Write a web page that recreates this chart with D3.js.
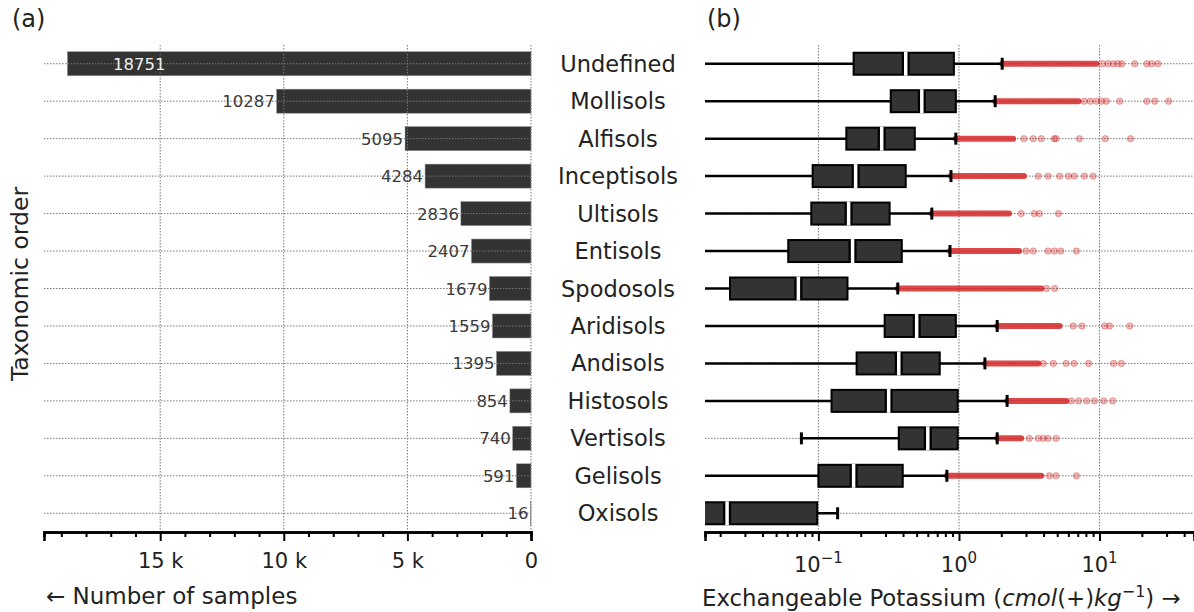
<!DOCTYPE html>
<html>
<head>
<meta charset="utf-8">
<script src="https://cdn.jsdelivr.net/npm/d3@7"></script>
<style>
  body { margin: 0; background: #fff; }
  svg { font-family: "DejaVu Sans", sans-serif; }
</style>
</head>
<body>
<div class="container"></div>
<script>
/* soil orders - sample counts (a) and exchangeable K box plots (b) */
var width = 1194;
var height = 612;

var orders = ["Undefined","Mollisols","Alfisols","Inceptisols","Ultisols","Entisols","Spodosols",
              "Aridisols","Andisols","Histosols","Vertisols","Gelisols","Oxisols"];
var sampleCounts = [18751, 10287, 5095, 4284, 2836, 2407, 1679, 1559, 1395, 854, 740, 591, 16];

// box plot stats, cmol(+)/kg
var whiskerLow  = [0.005, 0.005, 0.005, 0.005, 0.005, 0.005, 0.005, 0.005, 0.005, 0.005, 0.0757, 0.005, 0.005];
var q1          = [0.178, 0.327, 0.158, 0.091, 0.089, 0.061, 0.0235, 0.296, 0.187, 0.124, 0.373, 0.100, 0.010];
var medians     = [0.418, 0.544, 0.282, 0.184, 0.164, 0.175, 0.072, 0.50, 0.373, 0.316, 0.60, 0.178, 0.0224];
var q3          = [0.92, 0.95, 0.485, 0.418, 0.321, 0.392, 0.161, 0.95, 0.73, 0.98, 0.98, 0.398, 0.098];
var whiskerHigh = [2.03, 1.81, 0.95, 0.877, 0.641, 0.863, 0.367, 1.87, 1.53, 2.2, 1.87, 0.82, 0.137];
// outliers: a dense run starting at the whisker, then single points
var denseEnd = [9.5, 7.1, 2.43, 2.9, 2.27, 2.68, 3.85, 5.2, 3.66, 5.8, 2.77, 3.85, null];
var outliers = [
  [10.5, 11.5, 12.5, 13.5, 14.4, 17.8, 21.7, 23.5, 26],
  [7.8, 8.6, 9.5, 10.3, 11.2, 13.9, 21.7, 24.7, 31],
  [2.9, 3.38, 3.85, 4.77, 4.9, 7.2, 11, 16.6],
  [3.66, 4.3, 5.2, 6.0, 6.6, 7.8, 9.0],
  [2.77, 3.43, 3.73, 5.1],
  [3.0, 3.38, 4.3, 4.77, 5.3, 6.85],
  [4.2, 4.8],
  [6.5, 7.5, 10.9, 11.8, 16.4],
  [3.98, 4.69, 5.8, 6.6, 8.36, 12.6, 14.3],
  [6.3, 7.1, 8.1, 9.2, 10.7, 12.4],
  [3.16, 3.66, 3.98, 4.3, 4.9],
  [4.4, 4.9, 6.85],
  []
];

var plotTop = 45, plotBottom = 532;
var leftPanel = {left: 44, right: 531};
var rightPanel = {left: 705, right: 1194};

var svg = d3.select(".container").append("svg")
  .attr("width", width).attr("height", height);

var yScale = d3.scaleBand().domain(orders).range([plotTop, plotBottom]).padding(0);
var rowMid = function(o){ return yScale(o) + yScale.bandwidth() / 2; };

var xLeft = d3.scaleLinear().domain([0, 19700]).range([leftPanel.right, leftPanel.left]);
var xRight = d3.scaleLog().domain([0.0156, 47]).range([rightPanel.left, rightPanel.right]);

var gridStyle = function(sel){
  sel.attr("stroke", "#777").attr("stroke-width", 1).attr("stroke-dasharray", "1.5,1.5");
};

///////////////////////////////////////////////////////////////////////////////////
// (a) bars
var gA = svg.append("g");

gA.selectAll(".bar")
  .data(orders)
  .enter().append("rect")
  .attr("class", "bar")
  .attr("x", (d, i) => xLeft(sampleCounts[i]))
  .attr("y", d => rowMid(d) - 12)
  .attr("width", (d, i) => xLeft(0) - xLeft(sampleCounts[i]))
  .attr("height", 24)
  .attr("fill", "#333")
  .attr("stroke", "#888").attr("stroke-width", 0.5);

gA.selectAll(".hgrid").data(orders).enter().append("line")
  .attr("x1", leftPanel.left).attr("x2", leftPanel.right)
  .attr("y1", d => rowMid(d)).attr("y2", d => rowMid(d))
  .call(gridStyle);
gA.selectAll(".vgrid").data([0, 5000, 10000, 15000]).enter().append("line")
  .attr("x1", d => xLeft(d)).attr("x2", d => xLeft(d))
  .attr("y1", plotTop).attr("y2", plotBottom)
  .call(gridStyle);

gA.selectAll(".count")
  .data(orders)
  .enter().append("text")
  .attr("x", (d, i) => i === 0 ? xLeft(sampleCounts[i]) + 98 : xLeft(sampleCounts[i]) - 2)
  .attr("y", d => rowMid(d) + 6)
  .attr("text-anchor", "end")
  .attr("font-size", 16.5)
  .attr("fill", (d, i) => i === 0 ? "#eee" : "#3a3a3a")
  .text((d, i) => sampleCounts[i]);

gA.append("g").attr("transform", "translate(0," + plotBottom + ")")
  .call(d3.axisBottom(xLeft).tickValues([0, 5000, 10000, 15000]).tickSize(9).tickPadding(12)
    .tickFormat(d => d === 0 ? "0" : (d / 1000) + " k"));
gA.append("g").attr("transform", "translate(0," + plotBottom + ")")
  .call(d3.axisBottom(xLeft).tickValues(d3.range(1000, 20000, 1000).filter(v => v % 5000 !== 0))
    .tickSize(5).tickFormat(""));

gA.append("text").attr("x", 46).attr("y", 604).attr("font-size", 23).attr("fill", "#222")
  .text("\u2190 Number of samples");
gA.append("text").attr("transform", "translate(28," + 284 + ") rotate(-90)")
  .attr("text-anchor", "middle").attr("font-size", 23.5).attr("fill", "#222")
  .text("Taxonomic order");
svg.append("text").attr("x", 12).attr("y", 27).attr("font-size", 24).attr("fill", "#222").text("(a)");

// category labels between the panels
svg.selectAll(".cat").data(orders).enter().append("text")
  .attr("x", 618).attr("y", d => rowMid(d) + 8)
  .attr("text-anchor", "middle").attr("font-size", 22.5).attr("fill", "#222")
  .text(d => d);

///////////////////////////////////////////////////////////////////////////////////
// (b) box plots
var gB = svg.append("g");
svg.append("clipPath").attr("id", "clipB").append("rect")
  .attr("x", rightPanel.left).attr("y", 0).attr("width", rightPanel.right - rightPanel.left).attr("height", height);

gB.selectAll(".hgrid").data(orders).enter().append("line")
  .attr("x1", rightPanel.left).attr("x2", rightPanel.right)
  .attr("y1", d => rowMid(d)).attr("y2", d => rowMid(d))
  .call(gridStyle);
gB.selectAll(".vgrid").data([0.1, 1, 10]).enter().append("line")
  .attr("x1", d => xRight(d)).attr("x2", d => xRight(d))
  .attr("y1", plotTop).attr("y2", plotBottom)
  .call(gridStyle);

var boxes = gB.append("g").attr("clip-path", "url(#clipB)");
var red = "rgb(210,20,20)";

orders.forEach(function(o, i){
  var cy = rowMid(o);
  var row = boxes.append("g");
  // dense outlier run
  if (denseEnd[i] !== null) {
    row.append("line")
      .attr("x1", xRight(whiskerHigh[i])).attr("x2", xRight(denseEnd[i]))
      .attr("y1", cy).attr("y2", cy)
      .attr("stroke", red).attr("stroke-width", 6).attr("stroke-opacity", 0.78)
      .attr("stroke-linecap", "round");
  }
  row.selectAll("circle").data(outliers[i]).enter().append("circle")
    .attr("cx", d => xRight(d)).attr("cy", cy).attr("r", 3.2)
    .attr("fill", red).attr("fill-opacity", 0.3)
    .attr("stroke", red).attr("stroke-opacity", 0.3);
  // whiskers
  row.append("line").attr("x1", xRight(whiskerLow[i])).attr("x2", xRight(q1[i]))
    .attr("y1", cy).attr("y2", cy).attr("stroke", "#000").attr("stroke-width", 2.5);
  row.append("line").attr("x1", xRight(q3[i])).attr("x2", xRight(whiskerHigh[i]))
    .attr("y1", cy).attr("y2", cy).attr("stroke", "#000").attr("stroke-width", 2.5);
  [whiskerLow[i], whiskerHigh[i]].forEach(function(w){
    row.append("line").attr("x1", xRight(w)).attr("x2", xRight(w))
      .attr("y1", cy - 6).attr("y2", cy + 6).attr("stroke", "#000").attr("stroke-width", 3);
  });
  // box
  row.append("rect")
    .attr("x", xRight(q1[i])).attr("y", cy - 11)
    .attr("width", xRight(q3[i]) - xRight(q1[i])).attr("height", 22)
    .attr("fill", "#333").attr("stroke", "#000").attr("stroke-width", 2);
  row.append("line").attr("x1", xRight(medians[i])).attr("x2", xRight(medians[i]))
    .attr("y1", cy - 10).attr("y2", cy + 10).attr("stroke", "#000").attr("stroke-width", 8);
  row.append("line").attr("x1", xRight(medians[i])).attr("x2", xRight(medians[i]))
    .attr("y1", cy - 12).attr("y2", cy + 12).attr("stroke", "#fff").attr("stroke-width", 3.5);
});

var minorLog = [];
[-2, -1, 0, 1].forEach(function(e){
  d3.range(2, 10).forEach(function(k){
    var v = k * Math.pow(10, e);
    if (v > 0.0156 && v < 47) minorLog.push(v);
  });
});

gB.append("g").attr("transform", "translate(0," + plotBottom + ")")
  .call(d3.axisBottom(xRight).tickValues([0.1, 1, 10]).tickSize(9).tickFormat(""));
gB.append("g").attr("transform", "translate(0," + plotBottom + ")")
  .call(d3.axisBottom(xRight).tickValues(minorLog).tickSize(5).tickFormat(""));

var tickLab = gB.selectAll(".loglab").data([-1, 0, 1]).enter().append("text")
  .attr("x", d => xRight(Math.pow(10, d))).attr("y", 572)
  .attr("text-anchor", "middle").attr("font-size", 21).attr("fill", "#222");
tickLab.append("tspan").text("10");
tickLab.append("tspan").attr("dy", -9).attr("font-size", 15).text(d => d < 0 ? "\u2212" + (-d) : d);

var xlab = gB.append("text").attr("x", 702).attr("y", 606).attr("font-size", 22.8).attr("fill", "#222");
xlab.append("tspan").text("Exchangeable Potassium (");
xlab.append("tspan").attr("font-style", "italic").text("cmol");
xlab.append("tspan").text("(+)");
xlab.append("tspan").attr("font-style", "italic").text("kg");
xlab.append("tspan").attr("dy", -9).attr("font-size", 16).text("\u22121");
xlab.append("tspan").attr("dy", 9).text(") \u2192");

svg.append("text").attr("x", 707).attr("y", 27).attr("font-size", 24).attr("fill", "#222").text("(b)");

// axis styling
svg.selectAll(".domain").attr("stroke", "#000").attr("stroke-width", 2.5);
svg.selectAll(".tick line").attr("stroke", "#000").attr("stroke-width", 2);
svg.selectAll(".tick text").attr("font-size", 21).attr("fill", "#222").attr("font-family", "DejaVu Sans");
</script>
</body>
</html>
